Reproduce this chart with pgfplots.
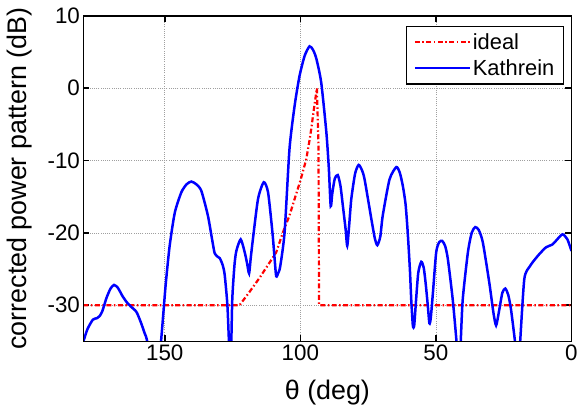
\documentclass[border=0pt]{standalone}
\usepackage{fontspec}
\setmainfont{Liberation Sans}
\usepackage{pgfplots}
\pgfplotsset{compat=1.18}

\pgfplotstableread{
th db
180 -35.0
178.5 -33.3
176.5 -32.0
175 -31.8
174 -31.5
173 -30.8
171.5 -29.0
170 -27.7
168.7 -27.2
167.3 -27.6
165.5 -28.8
164 -29.6
162.5 -30.2
160.5 -30.9
159 -32.2
157.5 -33.8
156.3 -35.5
154 -45
151.5 -35.5
150.5 -31
149.6 -26.9
148.2 -21.8
146.3 -17.2
143.9 -14.4
142 -13.3
140.2 -12.9
138.3 -13.3
136.5 -14.2
134.1 -17.6
132.5 -21
131.6 -22.8
130.5 -23.3
129.7 -23.5
128.6 -24.5
127.9 -25.8
126.9 -30
126.2 -36
125.6 -37
125.1 -29.2
124.3 -24.5
123.6 -22.5
122 -20.9
120.5 -22.7
119.6 -24.3
118.9 -25.6
118.3 -23.5
117.5 -20.9
115.6 -15.3
113.5 -13.0
111.9 -14.4
110.3 -19.9
109.5 -23.5
108.9 -26.0
108.1 -25.5
107.4 -24.6
105.8 -19.9
104.0 -8.4
102.1 -2.4
100.3 1.7
98.4 4.5
96.6 5.8
95.3 5.3
94.1 4.1
92.3 0.8
90.4 -6.1
89.5 -11
88.8 -16.3
88.2 -14.5
87.3 -12.5
86.2 -12.0
85.2 -13.5
84.3 -16.3
83.3 -19.5
82.7 -21.8
82.0 -19.0
81.2 -15.3
79.8 -11.8
78.5 -10.6
77.3 -11.3
76.3 -12.6
73.8 -18.1
72.5 -20.8
71.6 -21.7
70.5 -20.5
69.6 -17.6
67.1 -12.6
64.6 -10.9
63.3 -11.7
62.2 -13.5
61.2 -16
60.4 -19.9
59.6 -25
59.1 -29.2
58.5 -32.8
58.0 -32.8
57.3 -29.2
56.5 -25.5
55.4 -24.0
54.5 -24.8
53.8 -26.9
53.0 -30
52.4 -32.5
51.9 -31.8
51.1 -28.3
49.9 -22.7
48.8 -21.3
47.7 -21.1
46.6 -21.8
45.6 -23.6
43.8 -29.2
42.3 -35.5
41.6 -40
40.9 -35.5
40.1 -29.2
38.2 -22.7
36.8 -20.0
35.5 -19.2
34.2 -19.6
32.7 -21.3
30.3 -26.9
28.8 -31
27.8 -32.8
26.8 -31
25.5 -28.3
24.4 -27.7
23.3 -28.6
22.3 -30.6
20.7 -35.5
19.9 -40
19.0 -35.5
17.4 -26.4
15.5 -24.7
14.4 -24.1
12 -23
9.4 -22.0
7.0 -21.6
5.5 -21.0
3.3 -20.2
1.5 -20.9
0 -22.5
}\kathrein

\pgfplotstableread{
th db
180 -30
122.4 -30
119 -28.3
115 -26.2
111.5 -24.2
108.9 -22.7
106.4 -19.9
104 -17.6
102.1 -15.3
100 -12.8
97.8 -9.8
96.3 -6.5
95.0 -2.9
93.9 0
93.3 -8
93.1 -30
0 -30
}\ideal

\definecolor{mblue}{RGB}{0,0,255}
\definecolor{mred}{RGB}{255,0,0}

\begin{document}
\begin{tikzpicture}
\begin{axis}[
  name=ax,
  scale only axis,
  width=489bp, height=326bp,
  x dir=reverse,
  xmin=0, xmax=180, ymin=-35, ymax=10,
  xtick={0,50,100,150}, xticklabels={0,50,100,150},
  ytick={-30,-20,-10,0,10}, yticklabels={-30,-20,-10,0,10},
  tick align=inside,
  major tick length=6bp,
  axis line style={line width=1.6bp, draw=black},
  tick style={line width=1.6bp, draw=black},
  grid=major,
  major grid style={line width=0.7bp, gray!75, dash pattern=on 1bp off 1.2bp},
  ticklabel style={font=\fontsize{22.5}{25}\selectfont},
  xlabel={θ (deg)},
  ylabel={corrected power pattern (dB)},
  label style={font=\fontsize{27}{31}\selectfont},
  xlabel style={at={(rel axis cs:0.5,0)}, anchor=center, yshift=-51bp},
  ylabel style={at={(rel axis cs:0,0.5)}, anchor=center, yshift=64bp},
  legend style={at={(rel axis cs:1,1)}, anchor=north east, xshift=-7.5bp, yshift=-9.7bp,
    draw=black, line width=1.4bp, font=\fontsize{22}{25}\selectfont,
    inner xsep=7bp, inner ysep=5bp, row sep=5bp, cells={anchor=west, inner xsep=3bp}},
  legend image code/.code={\draw[#1, line width=2.2bp] (0bp,0bp) -- (55bp,0bp);},
]
\addplot[mred, line width=2.2bp, dash pattern=on 5bp off 2.5bp on 1.5bp off 2.5bp] table[x=th,y=db]{\ideal};
\addlegendentry{ideal}
\addplot[mblue, line width=2.5bp, smooth, tension=0.4] table[x=th,y=db]{\kathrein};
\addlegendentry{Kathrein}
\end{axis}
\draw[line width=1.6bp] (ax.south west) -- (ax.south east) -- (ax.north east) -- (ax.north west) -- cycle;
\path ([shift={(-83.6bp,-64bp)}]ax.south west) rectangle ([shift={(8.5bp,16bp)}]ax.north east);
\end{tikzpicture}
\end{document}
